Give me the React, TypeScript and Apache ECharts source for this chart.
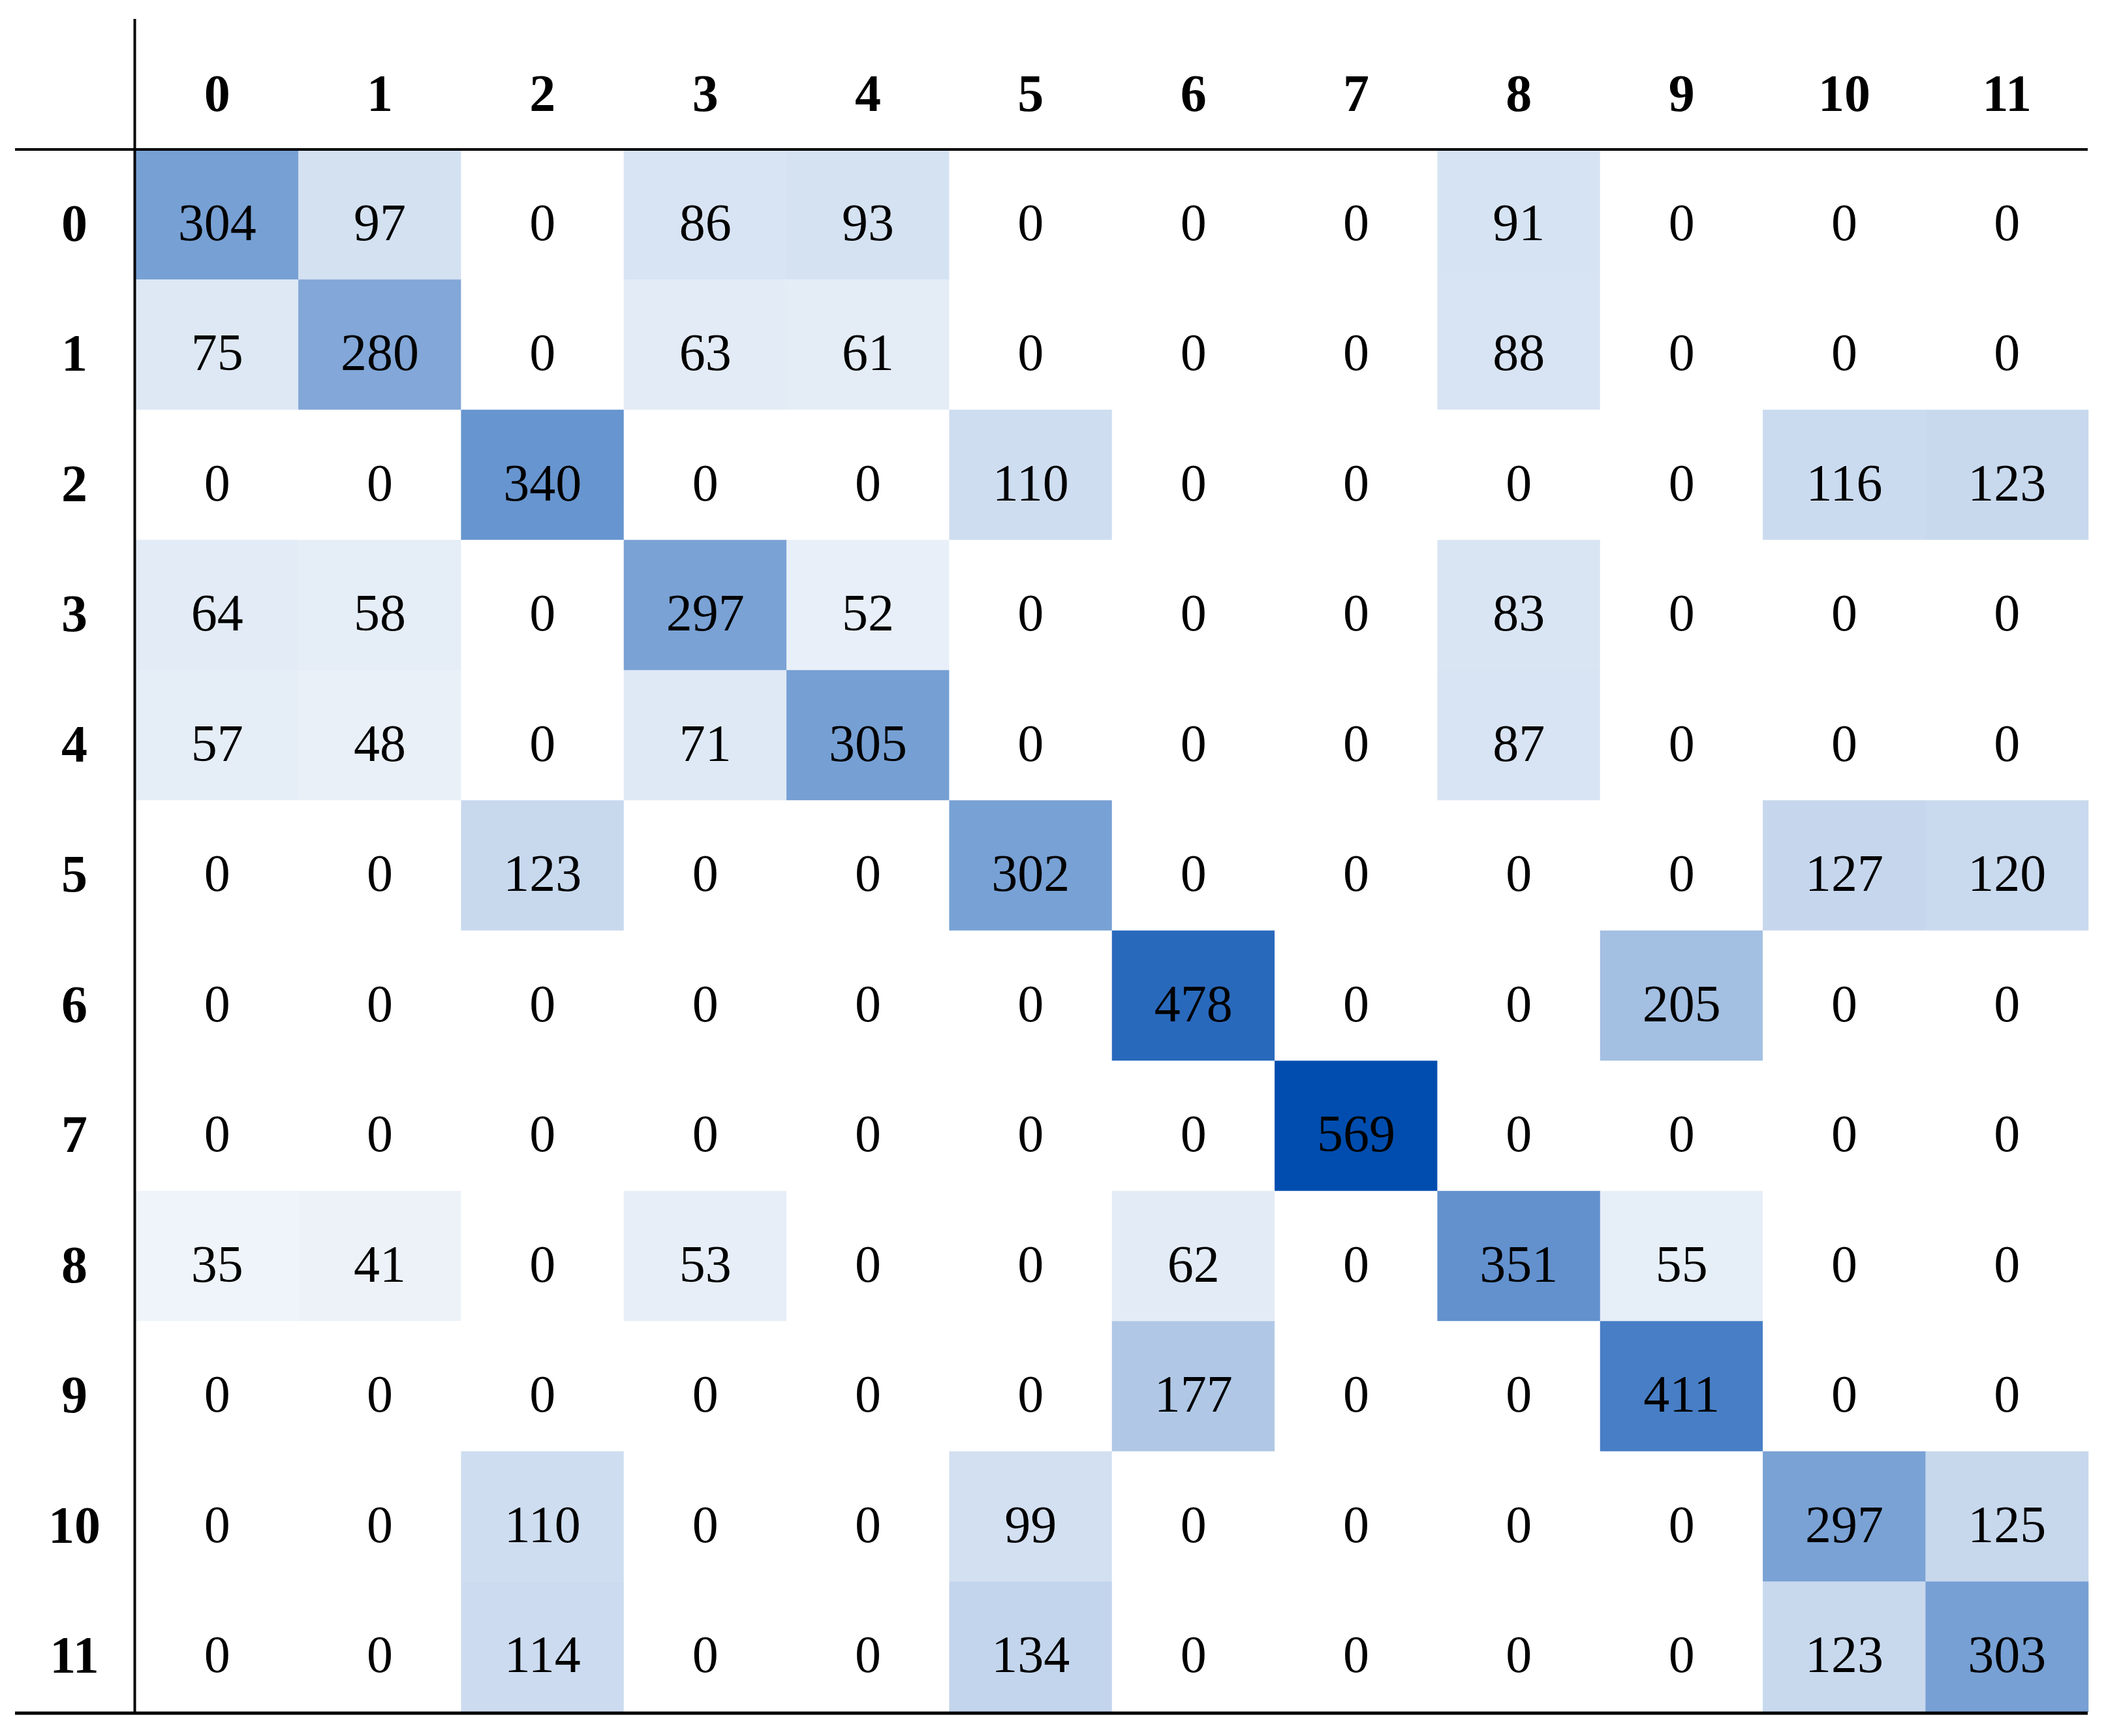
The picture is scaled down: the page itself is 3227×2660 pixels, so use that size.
import React, { useEffect, useRef } from "react";
import * as echarts from "echarts";

const colLabels = ["0", "1", "2", "3", "4", "5", "6", "7", "8", "9", "10", "11"];
const rowLabels = ["0", "1", "2", "3", "4", "5", "6", "7", "8", "9", "10", "11"];

const row0 = [304, 97, 0, 86, 93, 0, 0, 0, 91, 0, 0, 0];
const row1 = [75, 280, 0, 63, 61, 0, 0, 0, 88, 0, 0, 0];
const row2 = [0, 0, 340, 0, 0, 110, 0, 0, 0, 0, 116, 123];
const row3 = [64, 58, 0, 297, 52, 0, 0, 0, 83, 0, 0, 0];
const row4 = [57, 48, 0, 71, 305, 0, 0, 0, 87, 0, 0, 0];
const row5 = [0, 0, 123, 0, 0, 302, 0, 0, 0, 0, 127, 120];
const row6 = [0, 0, 0, 0, 0, 0, 478, 0, 0, 205, 0, 0];
const row7 = [0, 0, 0, 0, 0, 0, 0, 569, 0, 0, 0, 0];
const row8 = [35, 41, 0, 53, 0, 0, 62, 0, 351, 55, 0, 0];
const row9 = [0, 0, 0, 0, 0, 0, 177, 0, 0, 411, 0, 0];
const row10 = [0, 0, 110, 0, 0, 99, 0, 0, 0, 0, 297, 125];
const row11 = [0, 0, 114, 0, 0, 134, 0, 0, 0, 0, 123, 303];

const matrix = [row0, row1, row2, row3, row4, row5, row6, row7, row8, row9, row10, row11];

const FONT = "'Liberation Serif', 'Times New Roman', serif";

export default function App() {
  const ref = useRef<HTMLDivElement>(null);

  useEffect(() => {
    if (!ref.current) return;
    const chart = echarts.init(ref.current, null, { renderer: "svg" });

    const data: [number, number, number][] = [];
    matrix.forEach((row, r) => row.forEach((v, c) => data.push([c, r, v])));

    const gridLeft = 208;
    const gridTop = 229;
    const gridRight = 3200;
    const gridBottom = 2623;
    const labelShift = 13;

    chart.setOption({
      animation: false,
      backgroundColor: "#ffffff",
      grid: [
        {
          left: gridLeft,
          top: gridTop,
          width: gridRight - gridLeft,
          height: gridBottom - gridTop,
        },
        {
          left: gridLeft,
          top: gridTop + labelShift,
          width: gridRight - gridLeft,
          height: gridBottom - gridTop,
        },
      ],
      xAxis: [
        {
          type: "category",
          gridIndex: 0,
          data: colLabels,
          position: "top",
          axisLine: { show: false },
          axisTick: { show: false },
          splitLine: { show: false },
          axisLabel: {
            fontFamily: FONT,
            fontSize: 80,
            fontWeight: "bold",
            color: "#000",
            verticalAlign: "middle",
            margin: 86,
          },
        },
        {
          type: "category",
          gridIndex: 1,
          data: colLabels,
          show: false,
        },
      ],
      yAxis: [
        {
          type: "category",
          gridIndex: 0,
          data: rowLabels,
          inverse: true,
          axisLine: { show: false },
          axisTick: { show: false },
          splitLine: { show: false },
          axisLabel: { show: false },
        },
        {
          type: "category",
          gridIndex: 1,
          data: rowLabels,
          inverse: true,
          axisLine: { show: false },
          axisTick: { show: false },
          splitLine: { show: false },
          axisLabel: {
            fontFamily: FONT,
            fontSize: 80,
            fontWeight: "bold",
            color: "#000",
            align: "center",
            verticalAlign: "middle",
            margin: 94,
          },
        },
      ],
      visualMap: {
        show: false,
        min: 0,
        max: 569,
        seriesIndex: 0,
        inRange: { color: ["#ffffff", "#004DAF"] },
      },
      series: [
        {
          type: "heatmap",
          xAxisIndex: 0,
          yAxisIndex: 0,
          data,
          label: {
            show: true,
            fontFamily: FONT,
            fontSize: 80,
            color: "#000",
            offset: [0, 12],
          },
          itemStyle: { borderWidth: 0 },
          emphasis: { disabled: true },
        },
      ],
      graphic: [
        {
          type: "line",
          z: 100,
          shape: { x1: 23, y1: 229, x2: 3199, y2: 229 },
          style: { stroke: "#000", lineWidth: 4 },
        },
        {
          type: "line",
          z: 100,
          shape: { x1: 206.5, y1: 29, x2: 206.5, y2: 2625 },
          style: { stroke: "#000", lineWidth: 4 },
        },
        {
          type: "line",
          z: 100,
          shape: { x1: 23, y1: 2625, x2: 3199, y2: 2625 },
          style: { stroke: "#000", lineWidth: 5 },
        },
      ],
    });

    return () => chart.dispose();
  }, []);

  return (
    <div
      ref={ref}
      style={{ position: "absolute", left: 0, top: 0, width: 3227, height: 2660 }}
    />
  );
}
